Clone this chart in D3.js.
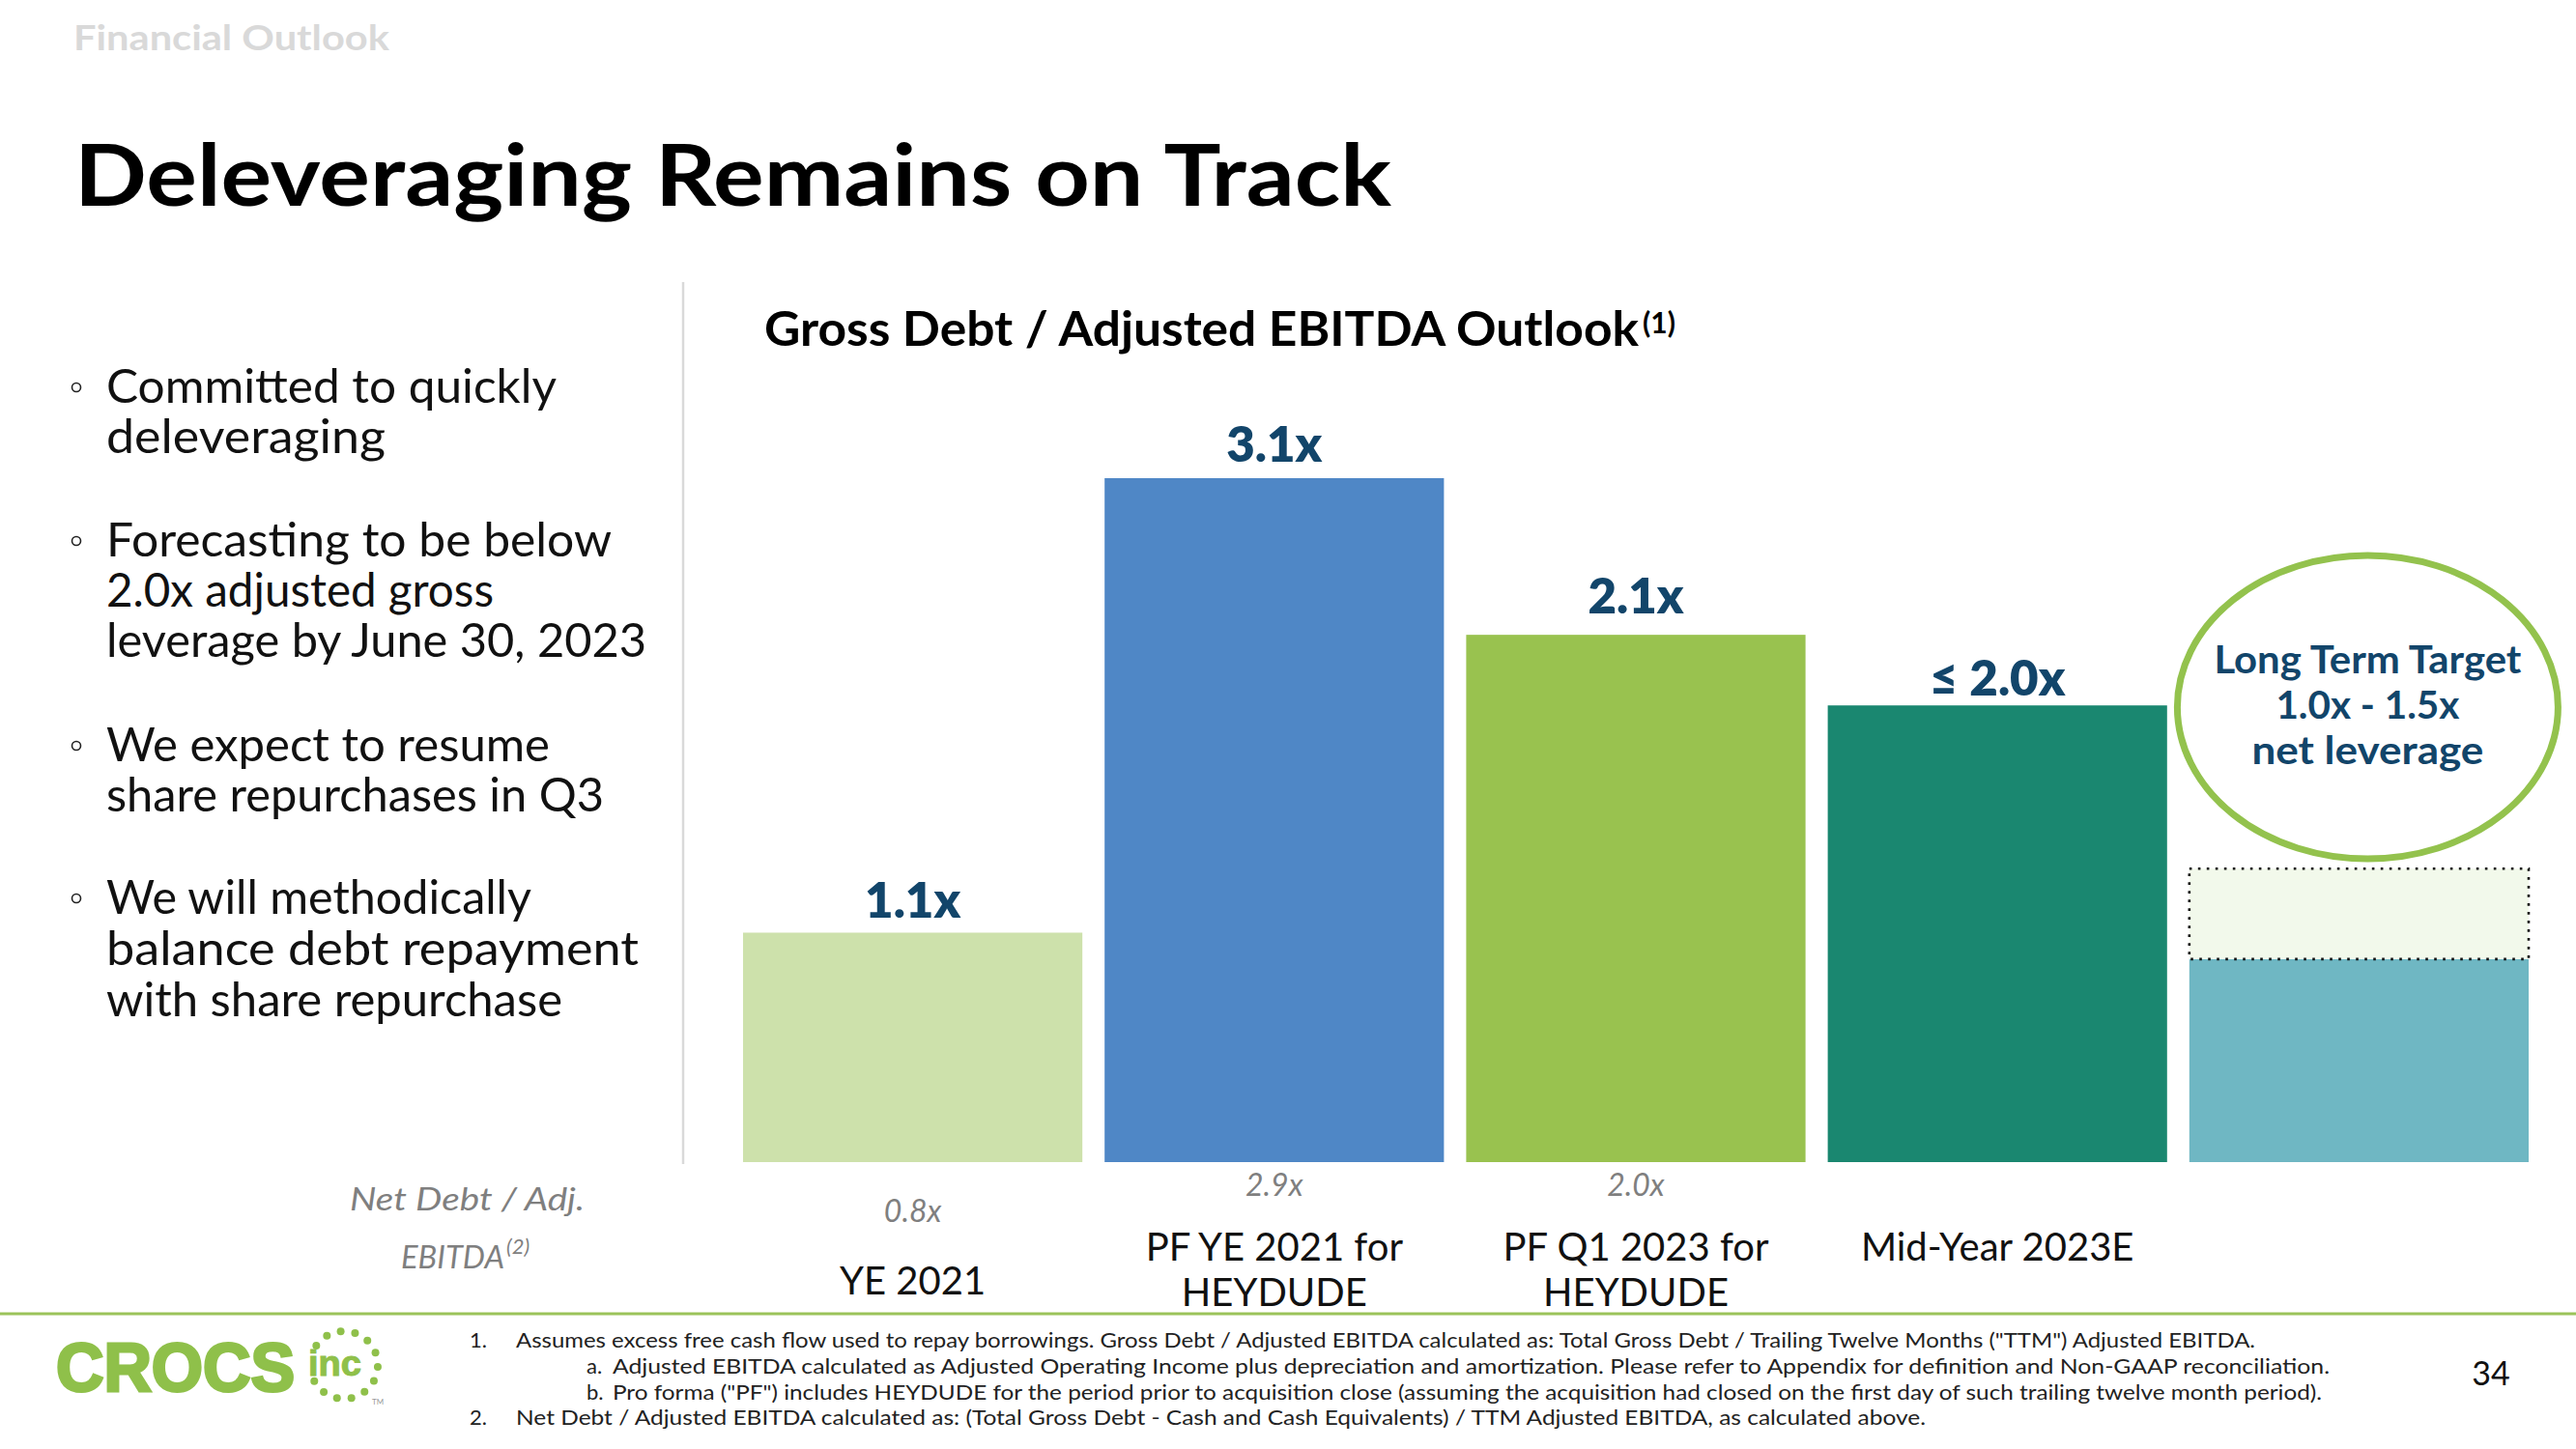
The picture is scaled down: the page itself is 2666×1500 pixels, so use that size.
<!DOCTYPE html>
<html><head><meta charset="utf-8">
<script src="https://cdn.jsdelivr.net/npm/d3@7"></script>
<style>html,body{margin:0;padding:0;background:#fff}svg{display:block}</style>
</head><body>
<script>
// ---------- data ----------
const categories = ["YE 2021", "PF YE 2021 for HEYDUDE", "PF Q1 2023 for HEYDUDE", "Mid-Year 2023E", "Long Term Target"];
const categoryLines = [["YE 2021"], ["PF YE 2021 for", "HEYDUDE"], ["PF Q1 2023 for", "HEYDUDE"], ["Mid-Year 2023E"], []];
// bar heights as drawn in the picture (gross debt / adj. EBITDA)
const grossLeverage = [1.04, 3.1, 2.39, 2.07, 0.92];
const grossLabels = ["1.1x", "3.1x", "2.1x", "\u2264 2.0x", ""];
const netLabels = ["0.8x", "2.9x", "2.0x", "", ""];
const targetRange = [0.92, 1.33];
const targetText = ["Long Term Target", "1.0x - 1.5x", "net leverage"];
const bullets = [
  ["Committed to quickly", "deleveraging"],
  ["Forecasting to be below", "2.0x adjusted gross", "leverage by June 30, 2023"],
  ["We expect to resume", "share repurchases in Q3"],
  ["We will methodically", "balance debt repayment", "with share repurchase"]
];
const footnotes = [
  ["1.", "Assumes excess free cash flow used to repay borrowings. Gross Debt / Adjusted EBITDA calculated as: Total Gross Debt / Trailing Twelve Months (\"TTM\") Adjusted EBITDA."],
  ["a.", "Adjusted EBITDA calculated as Adjusted Operating Income plus depreciation and amortization. Please refer to Appendix for definition and Non-GAAP reconciliation."],
  ["b.", "Pro forma (\"PF\") includes HEYDUDE for the period prior to acquisition close (assuming the acquisition had closed on the first day of such trailing twelve month period)."],
  ["2.", "Net Debt / Adjusted EBITDA calculated as: (Total Gross Debt - Cash and Cash Equivalents) / TTM Adjusted EBITDA, as calculated above."]
];

// ---------- styles ----------
const barColors = ["#cde1ab", "#4f87c6", "#99c24f", "#1a8770", "#6fb7c3"];
const navy = "#12456a";
const green = "#93c24d";
const FONT = "Lato, 'Open Sans', 'DejaVu Sans', sans-serif";

const W = 2666, H = 1500;
const svg = d3.select("body").append("svg").attr("width", W).attr("height", H)
  .style("font-family", FONT);

// header
svg.append("text").attr("x", 76).attr("y", 52).attr("font-size", 37).attr("font-weight", 700)
  .attr("fill", "#d9d9d9").attr("textLength", 327).attr("lengthAdjust", "spacingAndGlyphs").text("Financial Outlook");
svg.append("text").attr("x", 77).attr("y", 213).attr("font-size", 88).attr("font-weight", 700)
  .attr("fill", "#000").attr("textLength", 1363).attr("lengthAdjust", "spacingAndGlyphs").text("Deleveraging Remains on Track");

// bullets
const bulletBaselines = [[417, 469], [576, 628, 680], [788, 840], [946, 999, 1052]];
const bulletWidths = [[466, 289], [523, 401, 559], [459, 515], [440, 551, 472]];
bullets.forEach((b, i) => {
  svg.append("circle").attr("cx", 79).attr("cy", bulletBaselines[i][0] - 16).attr("r", 4.5)
    .attr("fill", "none").attr("stroke", "#222").attr("stroke-width", 1.6);
  b.forEach((line, j) => {
    svg.append("text").attr("x", 110).attr("y", bulletBaselines[i][j]).attr("font-size", 48)
      .attr("fill", "#111").attr("textLength", bulletWidths[i][j]).attr("lengthAdjust", "spacingAndGlyphs").text(line);
  });
});

// divider
svg.append("line").attr("x1", 707).attr("x2", 707).attr("y1", 292).attr("y2", 1205)
  .attr("stroke", "#d9d9d9").attr("stroke-width", 2.5);

// chart title
svg.append("text").attr("x", 791).attr("y", 358).attr("font-size", 50).attr("font-weight", 700)
  .attr("fill", "#000").attr("textLength", 905).attr("lengthAdjust", "spacingAndGlyphs").text("Gross Debt / Adjusted EBITDA Outlook");
svg.append("text").attr("x", 1700).attr("y", 345).attr("font-size", 30).attr("font-weight", 700)
  .attr("fill", "#000").text("(1)");

// scales
const x = d3.scaleBand().domain(categories).range([769, 2617]).paddingInner(0.0615).paddingOuter(0);
const y = d3.scaleLinear().domain([0, 3.1]).range([1203, 495]);

const bars = svg.append("g");
bars.selectAll("rect").data(categories).join("rect")
  .attr("x", d => x(d)).attr("width", x.bandwidth())
  .attr("y", (d, i) => y(grossLeverage[i])).attr("height", (d, i) => y(0) - y(grossLeverage[i]))
  .attr("fill", (d, i) => barColors[i]);

// target range box
const tc = categories[4];
svg.append("rect").attr("x", x(tc)).attr("width", x.bandwidth())
  .attr("y", y(targetRange[1])).attr("height", y(targetRange[0]) - y(targetRange[1]))
  .attr("fill", "#f2f9eb").attr("stroke", "#111").attr("stroke-width", 2.6).attr("stroke-dasharray", "2.6,6.4");

// value labels
const valueLabelGap = [15, 17, 22, 10, 0];
svg.append("g").selectAll("text").data(categories).join("text")
  .attr("x", d => x(d) + x.bandwidth() / 2)
  .attr("y", (d, i) => y(grossLeverage[i]) - valueLabelGap[i])
  .attr("text-anchor", "middle").attr("font-size", 51).attr("font-weight", 800).attr("fill", navy)
  .text((d, i) => grossLabels[i]);

// net debt labels
const netBaseline = [1265, 1238, 1238, 1238, 1238];
const gray = "#7f7f7f";
svg.append("g").selectAll("text").data(categories).join("text")
  .attr("x", d => x(d) + x.bandwidth() / 2).attr("y", (d, i) => netBaseline[i])
  .attr("text-anchor", "middle").attr("font-size", 32).attr("font-style", "italic").attr("font-weight", 400)
  .attr("fill", gray).text((d, i) => netLabels[i]);

svg.append("text").attr("x", 362).attr("y", 1253).attr("font-size", 33).attr("font-style", "italic").attr("font-weight", 400)
  .attr("fill", gray).attr("textLength", 243).attr("lengthAdjust", "spacingAndGlyphs").text("Net Debt / Adj.");
svg.append("text").attr("x", 415).attr("y", 1313).attr("font-size", 33).attr("font-style", "italic").attr("font-weight", 400)
  .attr("fill", gray).attr("textLength", 107).attr("lengthAdjust", "spacingAndGlyphs").text("EBITDA");
svg.append("text").attr("x", 524).attr("y", 1298).attr("font-size", 22).attr("font-style", "italic").attr("font-weight", 400)
  .attr("fill", gray).text("(2)");

// category labels
const catFirstBaseline = [1340, 1305, 1305, 1305, 1305];
categories.forEach((c, i) => {
  categoryLines[i].forEach((line, j) => {
    svg.append("text").attr("x", x(c) + x.bandwidth() / 2).attr("y", catFirstBaseline[i] + j * 47)
      .attr("text-anchor", "middle").attr("font-size", 40).attr("fill", "#111").text(line);
  });
});

// long term target ellipse
const ecx = x(tc) + x.bandwidth() / 2 + 9;
svg.append("ellipse").attr("cx", ecx).attr("cy", 732).attr("rx", 197).attr("ry", 157)
  .attr("fill", "none").attr("stroke", green).attr("stroke-width", 7);
const targetWidths = [318, 190, 240];
targetText.forEach((t, i) => {
  svg.append("text").attr("x", ecx).attr("y", 697 + i * 47).attr("text-anchor", "middle")
    .attr("font-size", 40).attr("font-weight", 700).attr("fill", navy)
    .attr("textLength", targetWidths[i]).attr("lengthAdjust", "spacingAndGlyphs").text(t);
});

// footer line
svg.append("line").attr("x1", 0).attr("x2", W).attr("y1", 1360).attr("y2", 1360)
  .attr("stroke", "#9bc35a").attr("stroke-width", 3);

// footnotes
const fnBase = [1395, 1422, 1449, 1475];
const fnNumX = [486, 607, 607, 486];
const fnTextX = [534, 634, 634, 534];
const fnEnd = [2334, 2411, 2403, 1993];
footnotes.forEach((f, i) => {
  svg.append("text").attr("x", fnNumX[i]).attr("y", fnBase[i]).attr("font-size", 22).attr("fill", "#222").text(f[0]);
  svg.append("text").attr("x", fnTextX[i]).attr("y", fnBase[i]).attr("font-size", 22).attr("fill", "#222")
    .attr("textLength", fnEnd[i] - fnTextX[i]).attr("lengthAdjust", "spacingAndGlyphs").text(f[1]);
});

// page number
svg.append("text").attr("x", 2578).attr("y", 1434).attr("text-anchor", "middle").attr("font-size", 34).attr("fill", "#111").text("34");

// logo
const logoGreen = "#8fc04a";
svg.append("text").attr("x", 58).attr("y", 1440).attr("font-size", 70).attr("font-weight", 900)
  .attr("font-family", "'Liberation Sans', Arial, sans-serif")
  .attr("fill", logoGreen).attr("stroke", logoGreen).attr("stroke-width", 3)
  .attr("textLength", 247).attr("lengthAdjust", "spacingAndGlyphs").text("CROCS");
svg.append("text").attr("x", 319).attr("y", 1424).attr("font-size", 36).attr("font-weight", 700)
  .attr("font-family", "'Liberation Sans', Arial, sans-serif")
  .attr("fill", logoGreen).attr("stroke", logoGreen).attr("stroke-width", 1)
  .attr("textLength", 55).attr("lengthAdjust", "spacingAndGlyphs").text("inc");
const dotAngles = d3.range(13).map(k => -145 + k * 24.7);
svg.append("g").selectAll("circle").data(dotAngles).join("circle")
  .attr("cx", a => 356 + 35 * Math.cos(a * Math.PI / 180))
  .attr("cy", a => 1413 + 35 * Math.sin(a * Math.PI / 180))
  .attr("r", 4).attr("fill", logoGreen);
svg.append("text").attr("x", 385).attr("y", 1454).attr("font-size", 8).attr("fill", "#999").text("TM");
</script>
</body></html>
